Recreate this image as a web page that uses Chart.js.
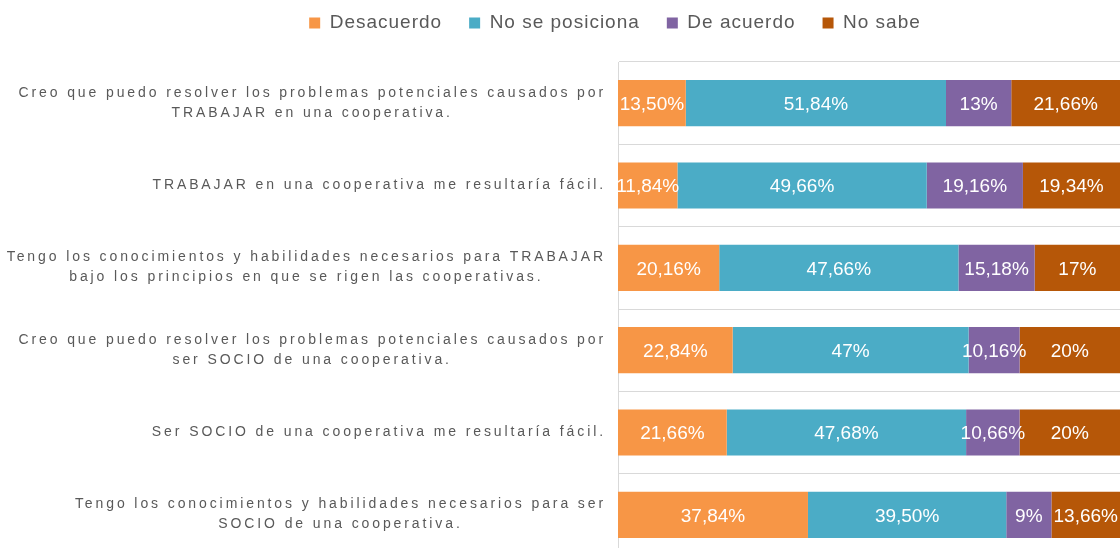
<!DOCTYPE html>
<html><head><meta charset="utf-8">
<script src="https://cdn.jsdelivr.net/npm/chart.js@4"></script>
<style>html,body{margin:0;padding:0;background:#fff;overflow:hidden}
#wrap{width:1120px;height:556px;position:relative}</style>
</head><body><div id="wrap"><canvas id="c"></canvas></div>
<script>
const categories = [
  ["Creo que puedo resolver los problemas potenciales causados por", "TRABAJAR en una cooperativa."],
  ["TRABAJAR en una cooperativa me resultaría fácil."],
  ["Tengo los conocimientos y habilidades necesarios para TRABAJAR", "bajo los principios en que se rigen las cooperativas."],
  ["Creo que puedo resolver los problemas potenciales causados por", "ser SOCIO de una cooperativa."],
  ["Ser SOCIO de una cooperativa me resultaría fácil."],
  ["Tengo los conocimientos y habilidades necesarios para ser", "SOCIO de una cooperativa."]
];
const seriesNames = ["Desacuerdo", "No se posiciona", "De acuerdo", "No sabe"];
const desacuerdo    = [13.50, 11.84, 20.16, 22.84, 21.66, 37.84];
const noSePosiciona = [51.84, 49.66, 47.66, 47.00, 47.68, 39.50];
const deAcuerdo     = [13.00, 19.16, 15.18, 10.16, 10.66, 9.00];
const noSabe        = [21.66, 19.34, 17.00, 20.00, 20.00, 13.66];
const colors = ["#F79646", "#4BACC6", "#8064A2", "#B65708"];

function fmt(v){ return Number.isInteger(v) ? v + "%" : v.toFixed(2).replace(".", ",") + "%"; }

const spacingPlugin = {
  id: 'spacing',
  beforeLayout(chart){ chart.ctx.letterSpacing = '1px'; },
  beforeDraw(chart){ chart.ctx.letterSpacing = '1px'; }
};

const labelPlugin = {
  id: 'labels',
  afterDatasetsDraw(chart){
    const ctx = chart.ctx;
    ctx.save();
    ctx.letterSpacing = '0px';
    ctx.font = '19px "Liberation Sans"';
    ctx.fillStyle = '#ffffff';
    ctx.textAlign = 'center';
    ctx.textBaseline = 'middle';
    chart.data.datasets.forEach((ds, di) => {
      const meta = chart.getDatasetMeta(di);
      meta.data.forEach((bar, i) => {
        const p = bar.getProps(['x', 'base', 'y'], true);
        ctx.fillText(fmt(ds.data[i]), (p.x + p.base) / 2, p.y + 1.5);
      });
    });
    ctx.restore();
  },
  afterDraw(chart){
    const ctx = chart.ctx, ys = chart.scales.y;
    ctx.save();
    ctx.font = '14px "Liberation Sans"';
    ctx.letterSpacing = '2.9px';
    ctx.fillStyle = '#595959';
    ctx.textAlign = 'center';
    ctx.textBaseline = 'middle';
    const right = 606, lh = 20;
    categories.forEach((lines, i) => {
      const cy = ys.getPixelForTick(i) - 0.5;
      const w = Math.max(...lines.map(l => ctx.measureText(l).width));
      const cx = right - w / 2;
      lines.forEach((l, j) => {
        ctx.fillText(l, cx, cy + (j - (lines.length - 1) / 2) * lh);
      });
    });
    ctx.restore();
  }
};

const series = [desacuerdo, noSePosiciona, deAcuerdo, noSabe];
new Chart(document.getElementById('c'), {
  type: 'bar',
  data: {
    labels: categories,
    datasets: series.map((d, i) => ({
      label: seriesNames[i],
      data: d,
      backgroundColor: colors[i],
      borderWidth: 0,
      categoryPercentage: 1,
      barPercentage: 0.56
    }))
  },
  options: {
    indexAxis: 'y',
    responsive: true,
    maintainAspectRatio: false,
    animation: false,
    layout: { padding: { top: -13.5, left: 110, right: 0, bottom: 0 } },
    plugins: {
      legend: {
        position: 'top',
        labels: {
          boxWidth: 11, boxHeight: 11, padding: 27,
          color: '#595959',
          font: { family: '"Liberation Sans"', size: 19 }
        }
      },
      tooltip: { enabled: false }
    },
    scales: {
      x: {
        position: 'top',
        stacked: true, min: 0, max: 100,
        ticks: { display: false },
        grid: { display: false },
        border: { display: false },
        afterFit(s){ s.height = 19.5; }
      },
      y: {
        stacked: true,
        ticks: { display: false },
        grid: { color: '#d9d9d9', drawTicks: false, offset: true },
        border: { color: '#d9d9d9' },
        afterFit(s){ s.width = 508; }
      }
    }
  },
  plugins: [spacingPlugin, labelPlugin]
});
</script></body></html>
